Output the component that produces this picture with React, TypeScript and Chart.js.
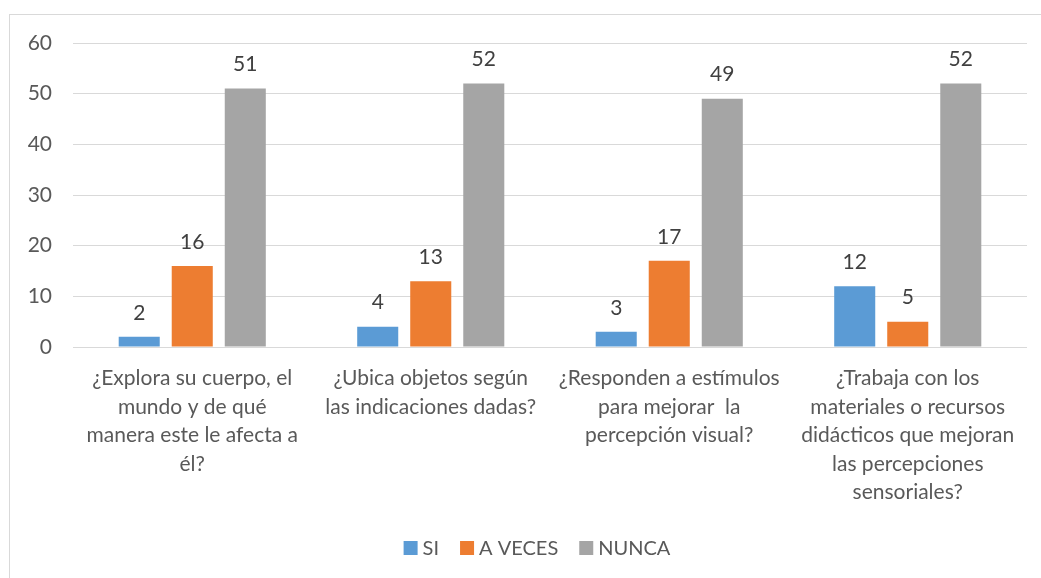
import React, { useEffect, useRef } from "react";
import { Chart, registerables } from "chart.js";

Chart.register(...registerables);

const categories: string[][] = [
  ["¿Explora su cuerpo, el", "mundo y de qué", "manera este le afecta a", "él?"],
  ["¿Ubica objetos según", "las indicaciones dadas?"],
  ["¿Responden a estímulos", "para mejorar  la", "percepción visual?"],
  ["¿Trabaja con los", "materiales o recursos", "didácticos que mejoran", "las percepciones", "sensoriales?"],
];
const siValues = [2, 4, 3, 12];
const aVecesValues = [16, 13, 17, 5];
const nuncaValues = [51, 52, 49, 52];
const seriesNames = ["SI", "A VECES", "NUNCA"];
const seriesColors = ["#5B9BD5", "#ED7D31", "#A5A5A5"];

const FONT = "Lato, 'Open Sans', sans-serif";
const FS = 21;

const borderPlugin = {
  id: "outerBorder",
  beforeDraw(chart: any) {
    const ctx = chart.ctx;
    ctx.save();
    ctx.fillStyle = "#ffffff";
    ctx.fillRect(0, 0, chart.width, chart.height);
    ctx.strokeStyle = "#D9D9D9";
    ctx.lineWidth = 1;
    ctx.strokeRect(9.5, 14.5, 2000, 2000);
    ctx.restore();
  },
};

const labelPlugin = {
  id: "valueLabels",
  afterDatasetsDraw(chart: any) {
    const ctx = chart.ctx;
    ctx.save();
    ctx.fillStyle = "#404040";
    ctx.font = `${FS}px ${FONT}`;
    ctx.textAlign = "center";
    ctx.textBaseline = "middle";
    chart.data.datasets.forEach((ds: any, i: number) => {
      const meta = chart.getDatasetMeta(i);
      meta.data.forEach((bar: any, j: number) => {
        ctx.fillText(String(ds.data[j]), bar.x, bar.y - 24);
      });
    });
    ctx.restore();
  },
};

const legendPlugin = {
  id: "customLegend",
  afterDraw(chart: any) {
    const ctx = chart.ctx;
    ctx.save();
    ctx.font = `20px ${FONT}`;
    ctx.textBaseline = "middle";
    const box = 14;
    const gapText = 5;
    const gapItem = 21;
    const widths = seriesNames.map((n) => box + gapText + ctx.measureText(n).width);
    const total = widths.reduce((a, b) => a + b, 0) + gapItem * (widths.length - 1);
    const cy = 548;
    let x = 537 - total / 2;
    seriesNames.forEach((n, i) => {
      ctx.fillStyle = seriesColors[i];
      ctx.fillRect(x, cy - box / 2, box, box);
      ctx.fillStyle = "#595959";
      ctx.fillText(n, x + box + gapText, cy + 1);
      x += widths[i] + gapItem;
    });
    ctx.restore();
  },
};

export default function App() {
  const ref = useRef<HTMLCanvasElement | null>(null);
  useEffect(() => {
    document.body.style.margin = "0";
    const canvas = ref.current!;
    const chart = new Chart(canvas, {
      type: "bar",
      data: {
        labels: categories,
        datasets: seriesNames.map((name, i) => ({
          label: name,
          data: [siValues, aVecesValues, nuncaValues][i],
          backgroundColor: seriesColors[i],
        })),
      },
      options: {
        responsive: false,
        animation: false,
        layout: { padding: { top: 43, left: 0, right: 14, bottom: 0 } },
        datasets: {
          bar: { categoryPercentage: 0.667, barPercentage: 0.774 },
        } as any,
        scales: {
          x: {
            grid: { display: false },
            border: { display: false },
            ticks: {
              color: "#595959",
              font: { family: FONT, size: FS, lineHeight: 1.36 },
              maxRotation: 0,
              autoSkip: false,
              padding: 9,
            },
            afterFit(scale: any) {
              scale.height = 231;
            },
          },
          y: {
            min: 0,
            max: 60,
            grid: { color: "#D9D9D9", drawTicks: false },
            border: { display: false },
            ticks: {
              stepSize: 10,
              color: "#595959",
              font: { family: FONT, size: FS },
              padding: 21,
            },
            afterFit(scale: any) {
              scale.width = 73;
            },
          },
        },
        plugins: {
          legend: { display: false },
          tooltip: { enabled: false },
        },
      },
      plugins: [borderPlugin, labelPlugin, legendPlugin],
    });
    return () => chart.destroy();
  }, []);
  return <canvas ref={ref} width={1041} height={578} style={{ display: "block" }} />;
}
